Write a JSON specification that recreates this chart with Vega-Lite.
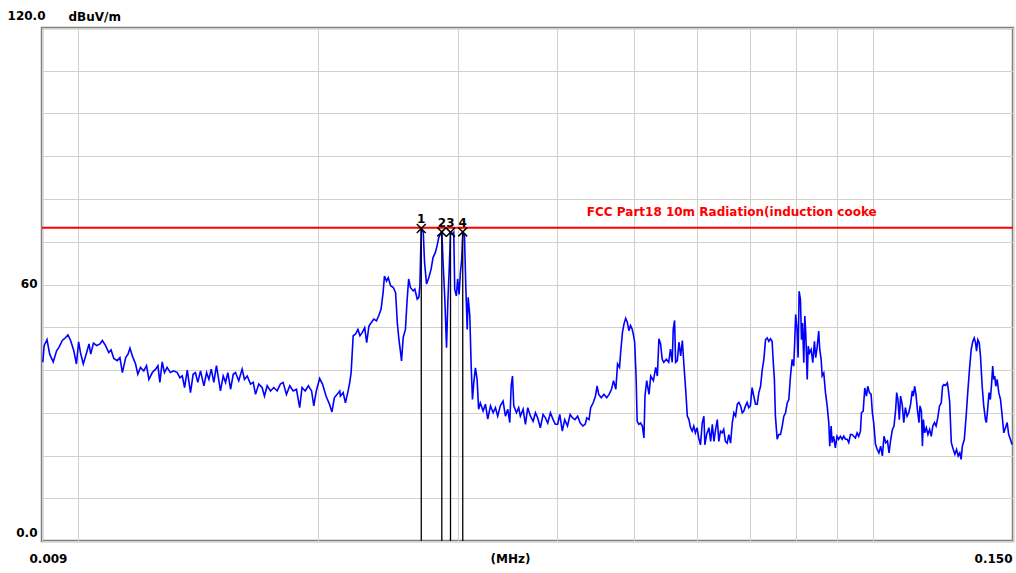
{
"$schema": "https://vega.github.io/schema/vega-lite/v6.json",
"width": 971, "height": 513,
"autosize": {"type": "none"},
"padding": {"left": 42, "top": 28, "right": 3, "bottom": 32},
"background": "white",
"config": {"view": {"stroke": "#808080", "strokeWidth": 2.5}},
"datasets": {
"trace": [
{"f":0.00902,"v":41.8},{"f":0.009056,"v":45.7},{"f":0.009131,"v":47.1},{"f":0.009203,"v":43.7},{"f":0.009297,"v":41.9},{"f":0.009389,"v":44.5},{"f":0.009453,"v":45.3},{"f":0.009547,"v":46.9},{"f":0.009639,"v":47.6},{"f":0.009703,"v":48.2},{"f":0.009778,"v":46.9},{"f":0.009869,"v":44.5},{"f":0.009944,"v":41.4},{"f":0.010008,"v":46.6},{"f":0.010061,"v":44.1},{"f":0.010143,"v":41.4},{"f":0.010243,"v":44.1},{"f":0.010313,"v":46.1},{"f":0.010365,"v":43.7},{"f":0.010447,"v":46.3},{"f":0.010547,"v":45.7},{"f":0.010647,"v":46.1},{"f":0.01072,"v":46.9},{"f":0.010821,"v":45.7},{"f":0.010921,"v":44.1},{"f":0.010994,"v":44.7},{"f":0.01108,"v":42.7},{"f":0.011193,"v":42.2},{"f":0.01128,"v":42.9},{"f":0.01136,"v":39.4},{"f":0.01147,"v":42.9},{"f":0.011547,"v":43.7},{"f":0.011613,"v":45.1},{"f":0.011693,"v":43.3},{"f":0.011803,"v":41.4},{"f":0.01188,"v":39.0},{"f":0.01197,"v":40.6},{"f":0.012087,"v":39.8},{"f":0.012184,"v":41.0},{"f":0.012267,"v":37.8},{"f":0.01239,"v":39.4},{"f":0.012509,"v":40.2},{"f":0.012592,"v":41.0},{"f":0.012664,"v":37.1},{"f":0.012751,"v":41.9},{"f":0.012834,"v":39.4},{"f":0.012931,"v":40.6},{"f":0.013055,"v":39.4},{"f":0.013184,"v":39.8},{"f":0.013318,"v":39.4},{"f":0.01342,"v":38.2},{"f":0.013514,"v":38.6},{"f":0.013604,"v":35.9},{"f":0.01371,"v":40.0},{"f":0.013839,"v":34.7},{"f":0.013945,"v":39.0},{"f":0.014038,"v":39.4},{"f":0.014134,"v":37.1},{"f":0.014248,"v":39.8},{"f":0.014387,"v":36.3},{"f":0.0145,"v":39.4},{"f":0.014597,"v":37.8},{"f":0.014697,"v":40.2},{"f":0.014807,"v":37.1},{"f":0.01492,"v":41.0},{"f":0.015094,"v":35.1},{"f":0.015215,"v":38.6},{"f":0.015318,"v":37.1},{"f":0.015422,"v":39.4},{"f":0.015543,"v":35.5},{"f":0.015664,"v":39.0},{"f":0.015767,"v":39.4},{"f":0.015915,"v":37.5},{"f":0.016072,"v":40.2},{"f":0.016182,"v":37.8},{"f":0.016311,"v":38.6},{"f":0.016469,"v":36.7},{"f":0.016598,"v":37.1},{"f":0.016708,"v":34.3},{"f":0.016866,"v":36.7},{"f":0.01703,"v":35.9},{"f":0.017146,"v":33.9},{"f":0.017283,"v":36.3},{"f":0.017449,"v":35.1},{"f":0.017616,"v":35.9},{"f":0.017788,"v":35.1},{"f":0.017955,"v":36.7},{"f":0.018097,"v":37.1},{"f":0.018274,"v":34.3},{"f":0.018452,"v":36.3},{"f":0.018634,"v":35.1},{"f":0.018812,"v":35.5},{"f":0.018989,"v":31.2},{"f":0.019118,"v":35.9},{"f":0.019296,"v":35.1},{"f":0.019473,"v":36.3},{"f":0.019656,"v":35.1},{"f":0.01978,"v":31.6},{"f":0.019925,"v":35.1},{"f":0.020119,"v":38.0},{"f":0.020288,"v":36.7},{"f":0.020494,"v":33.9},{"f":0.0207,"v":32.0},{"f":0.02085,"v":30.2},{"f":0.020994,"v":33.5},{"f":0.021163,"v":34.3},{"f":0.021325,"v":35.1},
{"f":0.021369,"v":33.9},{"f":0.021538,"v":34.7},{"f":0.021681,"v":32.3},{"f":0.021825,"v":34.7},{"f":0.02195,"v":37.0},{"f":0.02204,"v":39.4},{"f":0.022173,"v":48.0},{"f":0.022326,"v":48.4},{"f":0.022479,"v":49.5},{"f":0.022611,"v":48.0},{"f":0.022771,"v":48.8},{"f":0.022924,"v":49.9},{"f":0.023057,"v":46.4},{"f":0.02321,"v":50.3},{"f":0.023369,"v":51.1},{"f":0.023542,"v":51.9},{"f":0.023721,"v":51.5},{"f":0.023874,"v":52.7},{"f":0.024036,"v":54.2},{"f":0.024181,"v":58.1},{"f":0.024275,"v":62.0},{"f":0.02442,"v":60.8},{"f":0.024543,"v":61.6},{"f":0.02471,"v":59.7},{"f":0.024906,"v":59.3},{"f":0.025072,"v":58.1},{"f":0.025196,"v":51.1},{"f":0.025312,"v":47.2},{"f":0.025435,"v":44.1},{"f":0.025507,"v":42.1},{"f":0.02563,"v":47.6},{"f":0.025797,"v":49.5},{"f":0.02592,"v":56.2},{"f":0.026039,"v":61.3},{"f":0.026172,"v":59.3},{"f":0.026383,"v":58.5},{"f":0.026508,"v":58.9},{"f":0.026695,"v":56.6},{"f":0.02682,"v":57.0},{"f":0.026898,"v":59.7},{"f":0.027008,"v":73.1},{"f":0.027164,"v":72.2},{"f":0.027266,"v":65.2},{"f":0.027422,"v":60.1},{"f":0.027602,"v":61.6},{"f":0.027789,"v":63.6},{"f":0.027945,"v":66.3},{"f":0.028134,"v":67.5},{"f":0.028277,"v":69.1},{"f":0.028412,"v":71.0},{"f":0.028555,"v":71.8},{"f":0.028664,"v":72.3},{"f":0.028782,"v":64.4},{"f":0.028916,"v":56.6},{"f":0.029059,"v":45.2},{"f":0.029168,"v":55.8},{"f":0.029286,"v":63.6},{"f":0.029395,"v":72.2},{"f":0.029538,"v":71.8},{"f":0.029672,"v":72.2},{"f":0.029756,"v":58.9},{"f":0.029899,"v":57.3},{"f":0.030009,"v":61.3},{"f":0.030135,"v":57.7},{"f":0.030251,"v":62.8},{"f":0.030368,"v":65.9},{"f":0.030457,"v":72.3},{"f":0.03061,"v":71.4},{"f":0.030726,"v":59.7},{"f":0.030852,"v":49.5},{"f":0.030942,"v":57.0},{"f":0.031085,"v":52.7},{"f":0.031211,"v":40.9},{"f":0.031327,"v":33.1},{"f":0.031444,"v":37.0},{"f":0.031596,"v":40.5},{"f":0.031749,"v":37.8},{"f":0.031892,"v":30.8},{"f":0.032048,"v":32.3},{"f":0.032306,"v":30.4},{"f":0.032526,"v":32.0},{"f":0.032746,"v":28.5},{"f":0.033005,"v":31.6},{"f":0.033263,"v":30.0},{"f":0.033483,"v":31.2},{"f":0.033703,"v":29.2},{"f":0.033962,"v":31.6},{"f":0.034233,"v":32.7},{"f":0.034467,"v":29.2},{"f":0.0347,"v":30.8},{"f":0.034904,"v":27.7},{"f":0.035046,"v":36.3},{"f":0.035178,"v":38.6},{"f":0.03531,"v":31.6},{"f":0.035584,"v":30.0},{"f":0.035817,"v":31.2},
{"f":0.03599,"v":29.2},{"f":0.036278,"v":30.8},{"f":0.036524,"v":27.3},{"f":0.03677,"v":31.2},{"f":0.037059,"v":29.2},{"f":0.037348,"v":28.0},{"f":0.037594,"v":30.0},{"f":0.03784,"v":28.8},{"f":0.038136,"v":26.5},{"f":0.038441,"v":29.6},{"f":0.038701,"v":28.8},{"f":0.03896,"v":27.6},{"f":0.039266,"v":30.0},{"f":0.03957,"v":28.4},{"f":0.03983,"v":27.3},{"f":0.040099,"v":27.3},{"f":0.040345,"v":29.6},{"f":0.04064,"v":25.7},{"f":0.040924,"v":28.4},{"f":0.041256,"v":26.9},{"f":0.041576,"v":29.6},{"f":0.041872,"v":28.8},{"f":0.042155,"v":28.4},{"f":0.042488,"v":29.2},{"f":0.042808,"v":27.6},{"f":0.043141,"v":26.9},{"f":0.043424,"v":27.3},{"f":0.043633,"v":28.8},{"f":0.043916,"v":28.4},{"f":0.044126,"v":31.2},{"f":0.044458,"v":32.4},{"f":0.044741,"v":33.9},{"f":0.044951,"v":36.3},{"f":0.045165,"v":34.3},{"f":0.045495,"v":33.5},{"f":0.045852,"v":34.3},{"f":0.046223,"v":33.5},{"f":0.046539,"v":34.3},{"f":0.046868,"v":35.5},{"f":0.047143,"v":37.5},{"f":0.047459,"v":35.5},{"f":0.047693,"v":41.4},{"f":0.047967,"v":40.6},{"f":0.048146,"v":44.5},{"f":0.048379,"v":48.8},{"f":0.048599,"v":50.8},{"f":0.048833,"v":52.1},{"f":0.049066,"v":51.2},{"f":0.049286,"v":49.2},{"f":0.04952,"v":50.4},{"f":0.049753,"v":49.6},{"f":0.049973,"v":48.0},{"f":0.050122,"v":46.5},{"f":0.050334,"v":38.2},{"f":0.050486,"v":28.0},{"f":0.050729,"v":27.3},{"f":0.050988,"v":27.6},{"f":0.051246,"v":26.9},{"f":0.051489,"v":24.1},{"f":0.051641,"v":33.9},{"f":0.0519,"v":37.5},{"f":0.05225,"v":34.3},{"f":0.052508,"v":38.6},{"f":0.052918,"v":37.5},{"f":0.053268,"v":40.6},{"f":0.053526,"v":38.6},{"f":0.053769,"v":47.3},{"f":0.054028,"v":46.1},{"f":0.054286,"v":42.5},{"f":0.054529,"v":41.8},{"f":0.054939,"v":42.5},{"f":0.055317,"v":41.8},{"f":0.0556,"v":44.9},{"f":0.055883,"v":41.8},{"f":0.05605,"v":49.6},{"f":0.056267,"v":51.6},{"f":0.056433,"v":41.8},{"f":0.056717,"v":42.2},{"f":0.056983,"v":46.5},{"f":0.057267,"v":43.3},{"f":0.05755,"v":46.9},{"f":0.057817,"v":41.0},{"f":0.0581,"v":35.5},{"f":0.058383,"v":29.2},{"f":0.05865,"v":28.4},{"f":0.058933,"v":26.5},{"f":0.059217,"v":25.7},{"f":0.059483,"v":26.9},{"f":0.059767,"v":25.3},{"f":0.060054,"v":26.5},{"f":0.060344,"v":24.1},{"f":0.060652,"v":22.5},{"f":0.06096,"v":27.6},{"f":0.06125,"v":29.2},{"f":0.061431,"v":22.5},{"f":0.061739,"v":24.9},{"f":0.062156,"v":26.5},{"f":0.062464,"v":23.3},{"f":0.062772,"v":27.3},{"f":0.063062,"v":23.3},{"f":0.06337,"v":26.1},{"f":0.063678,"v":28.4},{"f":0.063967,"v":23.3},{"f":0.064275,"v":25.7},{"f":0.064583,"v":25.3},{"f":0.064873,"v":26.1},{"f":0.065195,"v":23.3},{"f":0.065527,"v":22.9},{"f":0.06584,"v":24.9},{"f":0.066172,"v":22.9},{"f":0.066504,"v":27.6},{"f":0.066816,"v":30.0},{"f":0.067148,"v":29.2},{"f":0.06748,"v":32.0},{"f":0.067793,"v":32.4},{"f":0.068125,"v":31.6},{"f":0.068457,"v":30.0},{"f":0.068769,"v":30.4},{"f":0.069101,"v":31.6},{"f":0.069434,"v":32.4},{"f":0.069746,"v":31.2},{"f":0.070084,"v":31.6},{"f":0.070441,"v":35.9},{"f":0.070777,"v":33.9},{"f":0.071134,"v":32.0},{"f":0.071492,"v":32.0},{"f":0.071828,"v":34.7},
{"f":0.072185,"v":36.2},{"f":0.072542,"v":40.1},{"f":0.072878,"v":42.5},{"f":0.073235,"v":47.1},{"f":0.073592,"v":47.5},{"f":0.073929,"v":46.7},{"f":0.074286,"v":47.3},{"f":0.074643,"v":46.7},{"f":0.074853,"v":42.5},{"f":0.075135,"v":37.8},{"f":0.075359,"v":29.2},{"f":0.07574,"v":23.8},{"f":0.076099,"v":24.9},{"f":0.07648,"v":24.9},{"f":0.076861,"v":26.9},{"f":0.07722,"v":29.2},{"f":0.077601,"v":30.0},{"f":0.077982,"v":32.3},{"f":0.078341,"v":33.1},{"f":0.078722,"v":38.6},{"f":0.079103,"v":42.5},{"f":0.079462,"v":40.9},{"f":0.079686,"v":46.4},{"f":0.07991,"v":53.0},{"f":0.080239,"v":49.5},{"f":0.080478,"v":42.9},{"f":0.080718,"v":58.4},{"f":0.081029,"v":56.5},{"f":0.081268,"v":47.1},{"f":0.081507,"v":51.0},{"f":0.081818,"v":41.7},{"f":0.082057,"v":52.6},{"f":0.082297,"v":48.3},{"f":0.082632,"v":37.8},{"f":0.082871,"v":45.6},{"f":0.083182,"v":44.0},{"f":0.083589,"v":44.8},{"f":0.083971,"v":41.7},{"f":0.084378,"v":46.7},{"f":0.084689,"v":42.9},{"f":0.085025,"v":45.2},{"f":0.085429,"v":49.1},{"f":0.085682,"v":44.8},{"f":0.086035,"v":42.5},{"f":0.086288,"v":38.6},{"f":0.086692,"v":39.3},{"f":0.087121,"v":34.7},{"f":0.087551,"v":31.6},{"f":0.087955,"v":27.7},{"f":0.088207,"v":22.2},{"f":0.08856,"v":26.9},{"f":0.088813,"v":23.0},{"f":0.089217,"v":24.5},{"f":0.089646,"v":21.8},{"f":0.090081,"v":24.5},{"f":0.090511,"v":23.8},{"f":0.090968,"v":24.5},{"f":0.091425,"v":23.8},{"f":0.091855,"v":24.5},{"f":0.092312,"v":23.8},{"f":0.092769,"v":23.8},{"f":0.093199,"v":23.0},{"f":0.093656,"v":24.9},{"f":0.094113,"v":24.9},{"f":0.094543,"v":24.5},{"f":0.095,"v":24.1},{"f":0.09548,"v":25.3},{"f":0.095932,"v":24.5},{"f":0.096412,"v":25.7},{"f":0.096695,"v":30.0},{"f":0.097175,"v":30.4},{"f":0.097627,"v":35.8},{"f":0.098107,"v":33.9},{"f":0.098475,"v":36.2},{"f":0.098955,"v":34.7},{"f":0.099435,"v":34.3},{"f":0.099802,"v":30.0},{"f":0.100182,"v":27.7},{"f":0.100699,"v":22.6},{"f":0.101216,"v":21.4},{"f":0.101702,"v":20.6},{"f":0.102219,"v":22.2},{"f":0.102736,"v":19.9},{"f":0.103222,"v":24.5},{"f":0.103739,"v":23.0},{"f":0.104255,"v":23.4},{"f":0.104742,"v":20.6},{"f":0.105258,"v":23.8},{"f":0.105775,"v":26.1},{"f":0.106261,"v":26.9},{"f":0.106778,"v":30.8},{"f":0.107082,"v":34.7},{"f":0.107477,"v":33.1},{"f":0.107903,"v":28.4},{"f":0.108298,"v":33.9},{"f":0.108815,"v":31.9},{"f":0.109301,"v":27.7},{"f":0.109818,"v":31.2},{"f":0.110367,"v":29.2},{"f":0.1109,"v":30.0},{"f":0.111467,"v":31.9},{"f":0.112033,"v":35.1},{"f":0.112367,"v":33.9},{"f":0.1128,"v":36.2},{"f":0.113233,"v":34.3},{"f":0.1137,"v":30.8},{"f":0.114233,"v":27.7},{"f":0.114567,"v":31.6},{"f":0.115033,"v":30.4},{"f":0.115367,"v":22.2},{"f":0.1157,"v":28.4},{"f":0.116133,"v":25.3},{"f":0.1167,"v":26.5},{"f":0.117233,"v":24.9},{"f":0.1178,"v":26.1},{"f":0.118367,"v":24.5},{"f":0.1189,"v":26.9},{"f":0.119467,"v":27.7},{"f":0.120036,"v":26.9},{"f":0.120614,"v":28.8},{"f":0.121227,"v":31.6},{"f":0.121841,"v":32.3},{"f":0.12231,"v":36.2},{"f":0.12278,"v":36.6},{"f":0.123393,"v":36.4},{"f":0.124007,"v":37.0},{"f":0.124368,"v":35.4},{"f":0.124838,"v":32.7},{"f":0.125451,"v":23.0},{"f":0.126173,"v":21.4},{"f":0.126751,"v":20.3},{"f":0.127365,"v":21.4},{"f":0.127978,"v":19.9},{"f":0.128556,"v":20.6},{"f":0.129061,"v":19.1},{"f":0.129531,"v":22.2},{"f":0.130273,"v":23.8},{"f":0.131055,"v":30.0},{"f":0.131563,"v":34.7},{"f":0.132227,"v":40.1},{"f":0.13289,"v":44.8},{"f":0.133516,"v":46.7},{"f":0.134063,"v":47.5},{"f":0.13457,"v":46.4},{"f":0.134961,"v":44.4},{"f":0.135469,"v":47.1},{"f":0.136016,"v":46.4},{"f":0.136523,"v":43.2},{"f":0.137187,"v":36.2},{"f":0.137813,"v":31.6},{"f":0.138477,"v":28.4},{"f":0.138867,"v":27.7},{"f":0.139375,"v":30.8},{"f":0.139922,"v":34.7},{"f":0.140462,"v":33.1},{"f":0.141008,"v":37.0},{"f":0.141429,"v":40.9},{"f":0.141849,"v":37.8},{"f":0.142269,"v":38.6},{"f":0.142689,"v":36.2},{"f":0.143277,"v":37.8},{"f":0.14395,"v":34.7},{"f":0.144664,"v":33.1},{"f":0.145378,"v":29.2},{"f":0.14605,"v":25.3},{"f":0.146765,"v":26.5},{"f":0.147479,"v":27.7},{"f":0.148151,"v":24.9},{"f":0.148866,"v":23.8},{"f":0.14958,"v":22.6}
],
"markers": [
{"n":"1","f":0.027008,"v":73.1},{"n":"2","f":0.028664,"v":72.3},{"n":"3","f":0.029395,"v":72.2},{"n":"4","f":0.030457,"v":72.3}
],
"limit": [
{"f":0.043634,"v":73.3,"label":"FCC Part18 10m Radiation(induction cooke"}
]
},
"layer": [
{
"data": {"name": "trace"},
"mark": {"type": "line", "color": "#0000ff", "strokeWidth": 1.6, "clip": true},
"encoding": {
"x": {"field": "f", "type": "quantitative",
"scale": {"type": "log", "domain": [0.009, 0.15], "nice": false},
"axis": {
"values": [0.009, 0.01, 0.02, 0.03, 0.04, 0.05, 0.06, 0.07, 0.08, 0.09, 0.1, 0.15],
"labelExpr": "datum.value < 0.0095 ? '0.009' : (datum.value > 0.14 ? '0.150' : '')",
"grid": true, "gridColor": "#d4d0c8", "gridWidth": 1,
"ticks": false, "tickSize": 0, "domain": false,
"labelFont": "DejaVu Sans", "labelFontWeight": "bold", "labelFontSize": 12, "labelColor": "#000000",
"labelPadding": 12, "labelBaseline": "top", "labelOverlap": false, "labelFlush": false, "labelBound": false,
"labelAlign": {"condition": {"test": "datum.value > 0.14", "value": "right"}, "value": "center"},
"labelOffset": {"condition": {"test": "datum.value > 0.14", "value": -1}, "value": 6},
"title": "(MHz)", "titleFont": "DejaVu Sans", "titleFontWeight": "bold", "titleFontSize": 12, "titleColor": "#000000",
"titleX": 468, "titleY": 12, "titleBaseline": "top", "titleAlign": "center"
}
},
"y": {"field": "v", "type": "quantitative",
"scale": {"domain": [0, 120], "nice": false, "zero": false},
"axis": {
"values": [0, 10, 20, 30, 40, 50, 60, 70, 80, 90, 100, 110, 120],
"labelExpr": "datum.value == 0 ? '0.0' : (datum.value == 60 ? '60' : (datum.value == 120 ? '120.0' : ''))",
"grid": true, "gridColor": "#d4d0c8", "gridWidth": 1,
"ticks": false, "tickSize": 0, "domain": false,
"labelFont": "DejaVu Sans", "labelFontWeight": "bold", "labelFontSize": 12, "labelColor": "#000000",
"labelAlign": "right", "labelOverlap": false, "labelFlush": false, "labelBound": false,
"labelBaseline": {"condition": {"test": "datum.value == 120", "value": "alphabetic"}, "value": "middle"},
"labelPadding": {"condition": {"test": "datum.value == 120", "value": -3}, "value": 5},
"labelOffset": {"condition": {"test": "datum.value != 60", "value": -9}, "value": -1},
"title": "dBuV/m", "titleFont": "DejaVu Sans", "titleFontWeight": "bold", "titleFontSize": 12, "titleColor": "#000000",
"titleAngle": 0, "titleAlign": "left", "titleBaseline": "middle", "titleX": 26, "titleY": -12
}
}
}
},
{
"data": {"name": "limit"},
"mark": {"type": "rule", "color": "#ff0000", "strokeWidth": 2},
"encoding": {"y": {"field": "v", "type": "quantitative"}}
},
{
"data": {"name": "limit"},
"mark": {"type": "text", "color": "#ff0000", "align": "left", "baseline": "alphabetic", "dy": -12, "font": "DejaVu Sans", "fontWeight": "bold", "fontSize": 12},
"encoding": {
"x": {"field": "f", "type": "quantitative"},
"y": {"field": "v", "type": "quantitative"},
"text": {"field": "label"}
}
},
{
"data": {"name": "markers"},
"mark": {"type": "rule", "color": "#000000", "strokeWidth": 1.3},
"encoding": {
"x": {"field": "f", "type": "quantitative"},
"y": {"field": "v", "type": "quantitative"},
"y2": {"datum": 0}
}
},
{
"data": {"name": "markers"},
"mark": {"type": "point", "shape": "M-1,-1L1,1M-1,1L1,-1", "filled": false, "stroke": "#000000", "strokeWidth": 1.5, "size": 80, "opacity": 1},
"encoding": {
"x": {"field": "f", "type": "quantitative"},
"y": {"field": "v", "type": "quantitative"}
}
},
{
"data": {"name": "markers"},
"mark": {"type": "text", "color": "#000000", "align": "center", "baseline": "alphabetic", "dy": -5, "font": "DejaVu Sans", "fontWeight": "bold", "fontSize": 12},
"encoding": {
"x": {"field": "f", "type": "quantitative"},
"y": {"field": "v", "type": "quantitative"},
"text": {"field": "n"}
}
}
]
}
